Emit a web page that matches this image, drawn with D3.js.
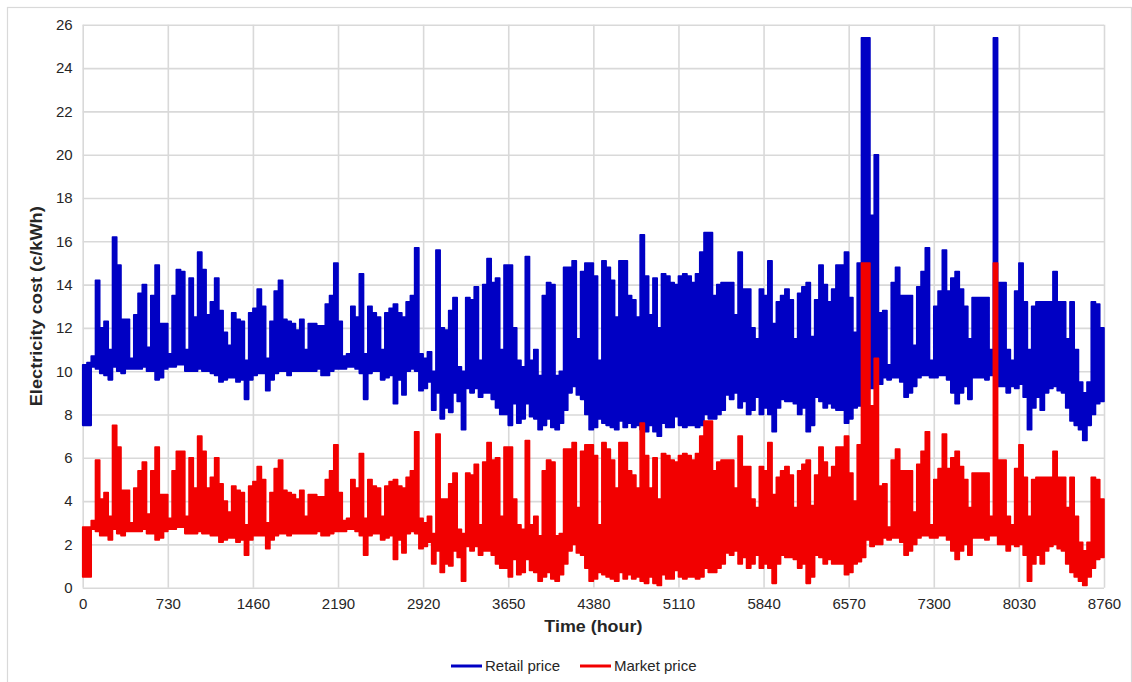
<!DOCTYPE html>
<meta charset="UTF-8">

<head>
    <script src="https://d3js.org/d3.v7.min.js"></script>
    <style>
        body {
            margin: 0;
            background: #fff;
        }

        text {
            font-family: "Liberation Sans", Arial, sans-serif;
            fill: #262626;
        }

        .grid line {
            stroke: #d9d9d9;
            stroke-width: 1.6px;
        }

        .series {
            stroke-width: 1.6px;
            stroke-linejoin: round;
        }
    </style>
</head>

<body>

    <script>
        // hourly prices over one year, read off as envelopes:
        // each value covers a 36.5 hour window (20 windows per 730 h tick)
        var binHours = 36.5;

        var retailHigh = [
            10.3, 10.4, 10.7, 14.2, 12.0, 12.3, 11.0, 16.2, 14.9, 12.4, 12.4, 10.6, 12.6, 13.6, 14.0, 11.1, 13.5, 14.9, 12.2, 12.2,
            10.8, 13.5, 14.7, 14.6, 11.0, 14.3, 12.5, 15.5, 14.7, 12.6, 13.2, 14.3, 12.8, 11.8, 11.2, 12.7, 12.4, 12.3, 10.5, 12.7,
            12.9, 13.8, 13.0, 10.6, 12.3, 13.7, 14.2, 12.4, 12.3, 12.2, 11.9, 12.4, 11.0, 12.2, 12.2, 12.1, 12.1, 13.1, 13.5, 15.0,
            12.3, 10.7, 10.8, 13.0, 12.5, 14.5, 10.8, 13.0, 12.7, 12.5, 11.0, 12.7, 12.9, 13.1, 12.7, 12.5, 13.2, 13.5, 15.7, 10.8,
            10.6, 10.9, 10.0, 15.6, 12.0, 11.9, 12.8, 13.4, 10.2, 10.0, 13.4, 13.3, 13.9, 10.5, 14.0, 15.2, 14.1, 14.3, 11.0, 14.9,
            14.9, 12.0, 10.5, 10.2, 15.3, 10.5, 11.0, 9.8, 13.5, 14.1, 14.0, 9.8, 10.0, 14.8, 14.8, 15.1, 11.5, 14.6, 15.0, 15.0,
            14.4, 10.5, 15.1, 14.8, 14.2, 12.5, 15.1, 15.1, 13.5, 13.3, 12.5, 16.3, 14.4, 12.6, 14.3, 12.0, 14.5, 14.4, 14.1, 14.0,
            14.4, 14.5, 14.4, 14.1, 14.5, 15.5, 16.4, 16.4, 13.5, 14.0, 14.1, 14.1, 14.1, 12.6, 15.5, 13.8, 13.8, 12.0, 11.5, 13.8,
            13.5, 15.1, 12.2, 13.2, 13.5, 13.8, 13.3, 11.5, 13.6, 13.9, 14.1, 11.6, 13.3, 14.9, 14.0, 13.2, 13.8, 14.9, 14.9, 15.5,
            13.4, 11.8, 15.0, 25.4, 25.4, 17.2, 20.0, 12.7, 12.8, 10.3, 14.1, 14.8, 13.5, 13.5, 13.5, 11.2, 13.9, 14.6, 15.7, 10.5,
            13.0, 13.7, 15.6, 13.7, 14.3, 14.6, 13.8, 13.0, 11.5, 13.4, 13.4, 13.4, 13.4, 11.0, 25.4, 14.1, 14.1, 11.0, 10.5, 13.7,
            15.0, 13.2, 11.0, 13.0, 13.2, 13.2, 13.2, 13.2, 14.6, 13.2, 13.2, 11.5, 13.2, 11.0, 9.5, 9.0, 9.5, 13.2, 13.1, 12.0
        ];

        var retailLow = [
            7.5, 7.5, 10.2, 10.1, 9.9, 9.8, 9.6, 10.2, 10.0, 9.9, 10.1, 10.1, 10.1, 10.1, 10.2, 10.0, 10.0, 9.6, 9.7, 10.1,
            10.2, 10.2, 10.3, 10.3, 10.0, 10.0, 10.0, 10.1, 10.0, 10.0, 9.9, 9.8, 9.5, 9.6, 9.7, 9.7, 9.5, 9.6, 8.7, 9.6,
            9.8, 9.9, 9.9, 9.1, 9.6, 9.9, 10.0, 10.0, 9.8, 10.0, 10.0, 10.0, 10.0, 10.0, 10.0, 10.1, 9.8, 9.8, 10.0, 10.1,
            10.1, 10.1, 10.2, 10.2, 10.1, 9.9, 8.7, 9.9, 10.0, 10.0, 9.6, 9.7, 9.8, 8.5, 9.6, 8.9, 10.0, 10.1, 10.0, 9.1,
            9.2, 9.5, 8.2, 9.0, 7.8, 8.3, 8.1, 9.0, 8.6, 7.3, 9.2, 9.0, 9.2, 8.8, 9.0, 9.0, 8.7, 8.3, 8.0, 8.0,
            7.5, 8.5, 7.6, 7.8, 8.5, 7.9, 7.8, 7.3, 7.5, 7.8, 7.4, 7.3, 7.6, 8.2, 9.0, 9.3, 8.9, 8.7, 8.0, 7.3,
            7.4, 7.8, 7.6, 7.5, 7.4, 7.3, 7.7, 7.4, 7.6, 7.4, 7.5, 7.3, 7.2, 7.5, 7.2, 7.0, 7.6, 7.4, 7.4, 7.9,
            7.5, 7.4, 7.5, 7.5, 7.4, 7.5, 8.0, 7.8, 7.8, 8.0, 8.2, 8.9, 8.7, 9.0, 8.3, 8.6, 8.0, 8.2, 8.8, 8.0,
            8.3, 8.0, 7.2, 8.3, 8.7, 8.6, 8.6, 8.5, 8.0, 8.3, 7.2, 7.5, 8.8, 8.6, 8.3, 8.5, 8.3, 8.2, 8.2, 7.6,
            7.8, 8.3, 8.4, 8.6, 9.6, 9.2, 9.4, 9.4, 9.7, 9.6, 9.7, 9.7, 9.5, 8.8, 9.0, 9.3, 9.7, 9.8, 9.8, 9.7,
            9.7, 9.8, 9.8, 9.6, 9.0, 8.5, 9.0, 9.3, 8.7, 9.7, 9.7, 9.7, 9.6, 9.8, 9.8, 9.3, 9.3, 9.0, 9.3, 9.2,
            9.4, 8.8, 7.3, 8.3, 8.8, 8.2, 9.0, 9.2, 9.3, 9.1, 9.0, 8.3, 7.7, 7.5, 7.3, 6.8, 7.5, 8.0, 8.5, 8.6
        ];

        var marketHigh = [
            2.8, 2.8, 3.1, 5.9, 4.1, 4.4, 3.3, 7.5, 6.5, 4.5, 4.5, 3.0, 4.6, 5.4, 5.8, 3.4, 5.4, 6.5, 4.3, 4.3,
            3.2, 5.4, 6.3, 6.3, 3.3, 6.0, 4.6, 7.0, 6.3, 4.6, 5.1, 6.0, 4.8, 4.0, 3.5, 4.7, 4.5, 4.4, 2.9, 4.7,
            4.9, 5.6, 5.0, 3.0, 4.4, 5.5, 5.9, 4.5, 4.4, 4.3, 4.1, 4.5, 3.3, 4.3, 4.3, 4.2, 4.2, 5.0, 5.4, 6.6,
            4.4, 3.1, 3.2, 5.0, 4.6, 6.2, 3.2, 5.0, 4.7, 4.6, 3.3, 4.7, 4.9, 5.0, 4.7, 4.6, 5.1, 5.4, 7.2, 3.2,
            3.0, 3.3, 2.5, 7.1, 4.1, 4.1, 4.8, 5.3, 2.7, 2.5, 5.3, 5.2, 5.7, 2.9, 5.8, 6.7, 5.9, 6.0, 3.3, 6.5,
            6.5, 4.1, 2.9, 2.7, 6.8, 2.9, 3.3, 2.4, 5.4, 5.9, 5.8, 2.4, 2.5, 6.4, 6.4, 6.7, 3.7, 6.3, 6.6, 6.6,
            6.1, 2.9, 6.7, 6.4, 5.9, 4.6, 6.7, 6.7, 5.4, 5.2, 4.6, 7.6, 6.1, 4.6, 6.0, 4.1, 6.2, 6.1, 5.9, 5.8,
            6.1, 6.2, 6.1, 5.9, 6.2, 7.0, 7.7, 7.7, 5.4, 5.8, 5.9, 5.9, 5.9, 4.6, 7.0, 5.6, 5.6, 4.1, 3.7, 5.6,
            5.4, 6.7, 4.3, 5.1, 5.4, 5.6, 5.2, 3.7, 5.4, 5.7, 5.9, 3.8, 5.2, 6.5, 5.8, 5.1, 5.6, 6.5, 6.5, 7.0,
            5.3, 4.0, 6.6, 15.0, 15.0, 8.4, 10.6, 4.7, 4.8, 2.8, 5.9, 6.4, 5.4, 5.4, 5.4, 3.5, 5.7, 6.3, 7.2, 2.9,
            5.0, 5.5, 7.1, 5.5, 6.0, 6.3, 5.6, 5.0, 3.7, 5.3, 5.3, 5.3, 5.3, 3.3, 15.0, 5.9, 5.9, 3.3, 2.9, 5.5,
            6.6, 5.1, 3.3, 5.0, 5.1, 5.1, 5.1, 5.1, 6.3, 5.1, 5.1, 3.7, 5.1, 3.3, 2.1, 1.7, 2.1, 5.1, 5.0, 4.1
        ];

        var marketLow = [
            0.5, 0.5, 2.7, 2.6, 2.4, 2.4, 2.2, 2.7, 2.5, 2.4, 2.6, 2.6, 2.6, 2.6, 2.7, 2.5, 2.5, 2.2, 2.3, 2.6,
            2.7, 2.7, 2.8, 2.8, 2.5, 2.5, 2.5, 2.6, 2.5, 2.5, 2.4, 2.4, 2.1, 2.2, 2.3, 2.3, 2.1, 2.2, 1.5, 2.2,
            2.4, 2.4, 2.4, 1.8, 2.2, 2.4, 2.5, 2.5, 2.4, 2.5, 2.5, 2.5, 2.5, 2.5, 2.5, 2.6, 2.4, 2.4, 2.5, 2.6,
            2.6, 2.6, 2.7, 2.7, 2.6, 2.4, 1.5, 2.4, 2.5, 2.5, 2.2, 2.3, 2.4, 1.3, 2.2, 1.6, 2.5, 2.6, 2.5, 1.8,
            1.9, 2.1, 1.1, 1.7, 0.7, 1.1, 1.0, 1.7, 1.4, 0.3, 1.9, 1.7, 1.9, 1.5, 1.7, 1.7, 1.5, 1.1, 0.9, 0.9,
            0.5, 1.3, 0.6, 0.7, 1.3, 0.8, 0.7, 0.3, 0.5, 0.7, 0.4, 0.3, 0.6, 1.1, 1.7, 2.0, 1.6, 1.5, 0.9, 0.3,
            0.4, 0.7, 0.6, 0.5, 0.4, 0.3, 0.7, 0.4, 0.6, 0.4, 0.5, 0.3, 0.2, 0.5, 0.2, 0.1, 0.6, 0.4, 0.4, 0.8,
            0.5, 0.4, 0.5, 0.5, 0.4, 0.5, 0.9, 0.7, 0.7, 0.9, 1.1, 1.6, 1.5, 1.7, 1.1, 1.4, 0.9, 1.1, 1.5, 0.9,
            1.1, 0.9, 0.2, 1.1, 1.5, 1.4, 1.4, 1.3, 0.9, 1.1, 0.2, 0.5, 1.5, 1.4, 1.1, 1.3, 1.1, 1.1, 1.1, 0.6,
            0.7, 1.1, 1.2, 1.4, 2.2, 1.9, 2.0, 2.0, 2.3, 2.2, 2.3, 2.3, 2.1, 1.5, 1.7, 2.0, 2.3, 2.4, 2.4, 2.3,
            2.3, 2.4, 2.4, 2.2, 1.7, 1.3, 1.7, 2.0, 1.5, 2.3, 2.3, 2.3, 2.2, 2.4, 2.4, 2.0, 2.0, 1.7, 2.0, 1.9,
            2.0, 1.5, 0.3, 1.1, 1.5, 1.1, 1.7, 1.9, 2.0, 1.8, 1.7, 1.1, 0.7, 0.5, 0.3, 0.1, 0.5, 0.9, 1.3, 1.4
        ];

        var xTicks = [0, 730, 1460, 2190, 2920, 3650, 4380, 5110, 5840, 6570, 7300, 8030, 8760];
        var yTicks = [0, 2, 4, 6, 8, 10, 12, 14, 16, 18, 20, 22, 24, 26];

        var series = [
            { name: "Retail price", color: "#0000c4", high: retailHigh, low: retailLow },
            { name: "Market price", color: "#f20000", high: marketHigh, low: marketLow }
        ];

        var width = 1132,
            height = 682;
        var plot = { left: 82.7, right: 1104, top: 24.8, bottom: 587.7 };

        var svg = d3
            .select("body")
            .append("svg")
            .attr("width", width)
            .attr("height", height);

        // outer chart border
        svg.append("rect")
            .attr("x", 7.5)
            .attr("y", 7.5)
            .attr("width", 1124)
            .attr("height", 690)
            .attr("fill", "none")
            .attr("stroke", "#d9d9d9")
            .attr("stroke-width", 1.2);

        var x = d3.scaleLinear().domain([0, 8760]).range([plot.left, plot.right]);
        var y = d3.scaleLinear().domain([0, 26]).range([plot.bottom, plot.top]);

        // grid + tick labels
        svg.append("g")
            .attr("class", "grid")
            .attr("transform", "translate(" + plot.left + ",0)")
            .call(d3.axisLeft(y)
                .tickValues(yTicks)
                .tickSize(-(plot.right - plot.left))
                .tickPadding(10)
                .tickFormat(d3.format("d")));

        svg.append("g")
            .attr("class", "grid")
            .attr("transform", "translate(0," + plot.bottom + ")")
            .call(d3.axisBottom(x)
                .tickValues(xTicks)
                .tickSize(-(plot.bottom - plot.top))
                .tickPadding(11)
                .tickFormat(d3.format("d")));

        svg.selectAll(".grid .domain").remove();
        svg.selectAll(".grid text")
            .attr("font-size", "15px")
            .style("font-family", "'Liberation Sans', Arial, sans-serif")
            .attr("fill", "#262626");

        // each window drawn as a block from its low to its high
        function windows(s) {
            var w = s.high.map(function (h, i) {
                return { t: i * binHours, lo: s.low[i], hi: h };
            });
            var last = w[w.length - 1];
            w.push({ t: 8760, lo: last.lo, hi: last.hi });
            return w;
        }

        var band = d3.area()
            .curve(d3.curveStepAfter)
            .x(function (d) { return x(d.t); })
            .y0(function (d) { return y(d.lo); })
            .y1(function (d) { return y(d.hi); });

        svg.selectAll("path.series")
            .data(series)
            .enter()
            .append("path")
            .attr("class", "series")
            .attr("fill", function (d) { return d.color; })
            .attr("stroke", function (d) { return d.color; })
            .attr("d", function (d) { return band(windows(d)); });

        // axis titles
        svg.append("text")
            .attr("x", (plot.left + plot.right) / 2)
            .attr("y", 632)
            .attr("text-anchor", "middle")
            .attr("font-size", "17px")
            .attr("font-weight", "bold")
            .attr("textLength", 98)
            .attr("lengthAdjust", "spacingAndGlyphs")
            .attr("fill", "#0d0d0d")
            .text("Time (hour)");

        svg.append("text")
            .attr("transform", "translate(42," + (plot.top + plot.bottom) / 2 + ") rotate(-90)")
            .attr("text-anchor", "middle")
            .attr("font-size", "16px")
            .attr("font-weight", "bold")
            .attr("textLength", 200)
            .attr("lengthAdjust", "spacingAndGlyphs")
            .attr("fill", "#0d0d0d")
            .text("Electricity cost (c/kWh)");

        // legend
        var legendX = [451, 580];
        var legend = svg.selectAll("g.legend")
            .data(series)
            .enter()
            .append("g")
            .attr("class", "legend")
            .attr("transform", function (d, i) { return "translate(" + legendX[i] + ",666)"; });

        legend.append("line")
            .attr("x1", 0)
            .attr("x2", 31)
            .attr("stroke", function (d) { return d.color; })
            .attr("stroke-width", 3);

        legend.append("text")
            .attr("x", 34)
            .attr("y", 5)
            .attr("font-size", "15px")
            .text(function (d) { return d.name; });
    </script>

</body>
